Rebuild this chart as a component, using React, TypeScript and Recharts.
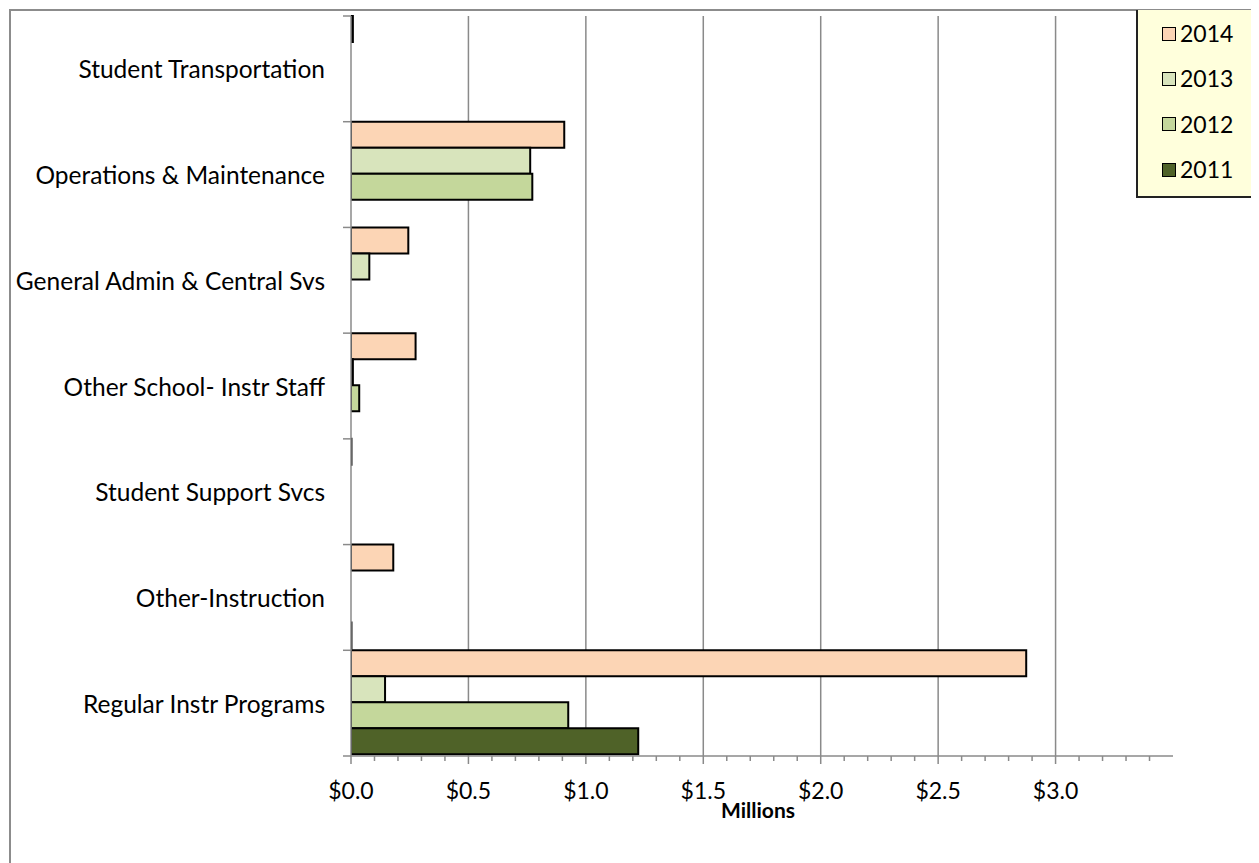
import React from 'react';
import { BarChart, Bar, XAxis, YAxis, CartesianGrid, Legend } from 'recharts';

const categories = [
  'Student Transportation',
  'Operations & Maintenance',
  'General Admin & Central Svs',
  'Other School- Instr Staff',
  'Student Support Svcs',
  'Other-Instruction',
  'Regular Instr Programs',
];
const v2014 = [0.008, 0.908, 0.244, 0.275, 0.002, 0.18, 2.875];
const v2013 = [0, 0.763, 0.078, 0.008, 0, 0, 0.145];
const v2012 = [0, 0.772, 0, 0.035, 0, 0, 0.925];
const v2011 = [0, 0, 0, 0, 0, 0.002, 1.223];

const seriesKeys = ['2014', '2013', '2012', '2011'];
const seriesColors = ['#FCD5B5', '#D8E4BC', '#C4D79B', '#4F6228'];

const xDomain = [0, 3.5];
const majorTicks = [0, 0.5, 1, 1.5, 2, 2.5, 3];
const allTicks = [
  0, 0.1, 0.2, 0.3, 0.4, 0.5, 0.6, 0.7, 0.8, 0.9, 1.0, 1.1, 1.2, 1.3, 1.4, 1.5, 1.6, 1.7,
  1.8, 1.9, 2.0, 2.1, 2.2, 2.3, 2.4, 2.5, 2.6, 2.7, 2.8, 2.9, 3.0, 3.1, 3.2, 3.3, 3.4,
];

const data = categories.map((name, i) => ({
  name,
  '2014': v2014[i],
  '2013': v2013[i],
  '2012': v2012[i],
  '2011': v2011[i],
}));

const GRAY = '#8A8A8A';
const FONT = 'Lato, "Open Sans", sans-serif';

const XTick = (props: any) => {
  const { x, y, payload } = props;
  const v = Number(payload.value);
  const isMajor = majorTicks.some((m) => Math.abs(m - v) < 1e-6);
  return (
    <g>
      <line x1={x} x2={x} y1={y} y2={y + (isMajor ? 8 : 5)} stroke={GRAY} strokeWidth={1.5} />
      {isMajor && (
        <text
          x={x}
          y={y + 34}
          textAnchor="middle"
          dominantBaseline="central"
          fontFamily={FONT}
          fontSize={23}
          fill="#000"
        >
          {'$' + v.toFixed(1)}
        </text>
      )}
    </g>
  );
};

const YTick = (props: any) => {
  const { x, y, payload, index } = props;
  const half = typeof payload.offset === 'number' && payload.offset > 0 ? payload.offset : 740 / 7 / 2;
  return (
    <g>
      <line x1={x - 8} x2={x} y1={y - half} y2={y - half} stroke={GRAY} strokeWidth={1.5} />
      {index === categories.length - 1 && (
        <line x1={x - 8} x2={x} y1={y + half} y2={y + half} stroke={GRAY} strokeWidth={1.5} />
      )}
      <text
        x={x - 26}
        y={y}
        textAnchor="end"
        dominantBaseline="central"
        fontFamily={FONT}
        fontSize={24.5}
        fill="#000"
      >
        {payload.value}
      </text>
    </g>
  );
};

const renderLegend = () => {
  const items = seriesKeys.map((k, i) => ({ label: k, color: seriesColors[i] }));
  return (
    <div
      style={{
        width: '100%',
        height: '100%',
        boxSizing: 'border-box',
        background: '#FFFFDC',
        borderLeft: '2px solid #222',
        borderBottom: '2px solid #222',
        paddingTop: 1,
      }}
    >
      {items.map((it) => (
        <div
          key={it.label}
          style={{ height: 45.3, display: 'flex', alignItems: 'center', paddingLeft: 24 }}
        >
          <span
            style={{
              display: 'inline-block',
              width: 12,
              height: 12,
              border: '1.5px solid #000',
              background: it.color,
              marginRight: 4,
            }}
          />
          <span style={{ fontFamily: FONT, fontSize: 23, color: '#000', lineHeight: 1 }}>
            {it.label}
          </span>
        </div>
      ))}
    </div>
  );
};

const gridGenerator = (args: any) => {
  const xAxis = args && args.xAxis;
  const vals = majorTicks.filter((v) => v > 0);
  if (xAxis && typeof xAxis.scale === 'function') {
    const out = vals.map((v) => Number(xAxis.scale(v)));
    if (out.every((c) => isFinite(c))) return out;
  }
  const off = args && args.offset;
  if (off && typeof off.left === 'number' && typeof off.width === 'number') {
    return vals.map((v) => off.left + ((v - xDomain[0]) / (xDomain[1] - xDomain[0])) * off.width);
  }
  return [];
};

export default function App() {
  return (
    <div style={{ position: 'relative', width: 1251, height: 855, overflow: 'hidden' }}>
      <div
        style={{
          position: 'absolute',
          left: 1,
          top: 1,
          width: 1400,
          height: 1000,
          border: '2px solid #8C8C8C',
          boxSizing: 'border-box',
        }}
      />
      <div style={{ position: 'absolute', left: 0, top: 0 }}>
        <BarChart
          width={1251}
          height={855}
          data={data}
          layout="vertical"
          margin={{ top: 8, right: 86, bottom: 60, left: 0 }}
          barCategoryGap={0}
          barGap={0}
        >
          <CartesianGrid
            horizontal={false}
            vertical={true}
            stroke={GRAY}
            strokeWidth={1.5}
            verticalCoordinatesGenerator={gridGenerator}
          />
          <XAxis
            type="number"
            domain={xDomain}
            ticks={allTicks}
            interval={0}
            tickSize={0}
            tickMargin={0}
            tickLine={false}
            tick={<XTick />}
            axisLine={{ stroke: GRAY, strokeWidth: 1.5 }}
            height={47}
            allowDataOverflow
            label={{
              value: 'Millions',
              position: 'bottom',
              offset: 0,
              dx: -4,
              style: { fontFamily: FONT, fontSize: 21, fontWeight: 700, fill: '#000' },
            }}
          />
          <YAxis
            type="category"
            dataKey="name"
            width={343}
            interval={0}
            tickSize={0}
            tickMargin={0}
            tickLine={false}
            tick={<YTick />}
            axisLine={{ stroke: GRAY, strokeWidth: 1.5 }}
          />
          <Legend
            layout="vertical"
            align="center"
            verticalAlign="middle"
            wrapperStyle={{ left: 1128, top: 2, width: 135, height: 188 }}
            content={renderLegend}
          />
          {seriesKeys.map((k, i) => (
            <Bar
              key={k}
              dataKey={k}
              name={k}
              fill={seriesColors[i]}
              stroke="#000"
              strokeWidth={2}
              isAnimationActive={false}
            />
          ))}
        </BarChart>
      </div>
    </div>
  );
}
